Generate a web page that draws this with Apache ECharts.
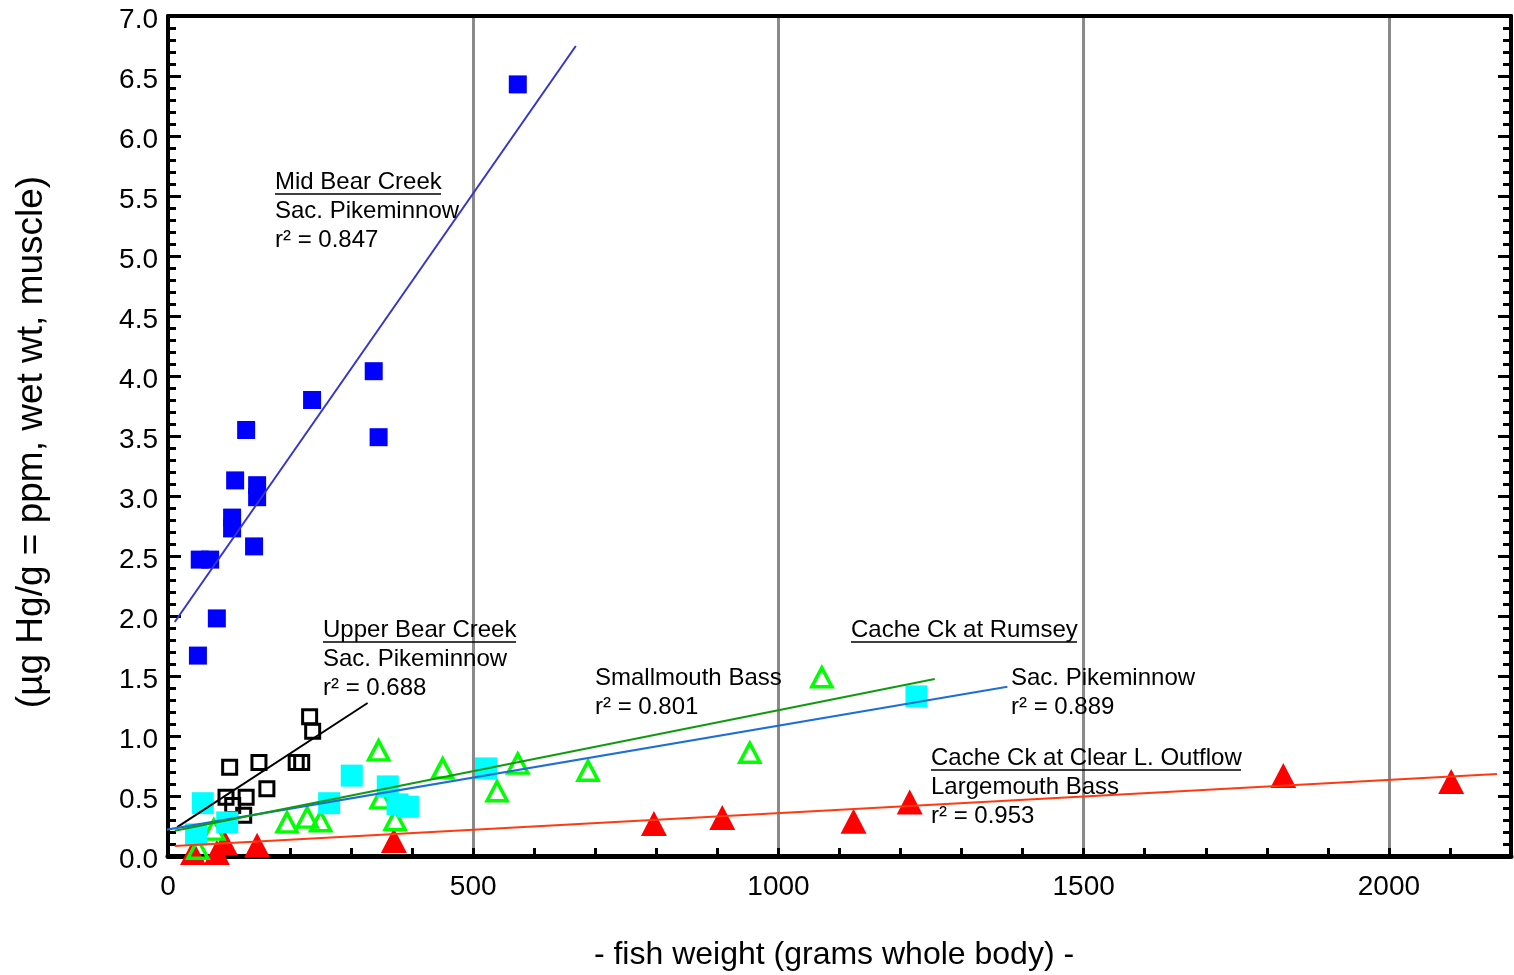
<!DOCTYPE html>
<html>
<head>
<meta charset="utf-8">
<script src="https://cdn.jsdelivr.net/npm/echarts@6/dist/echarts.min.js"></script>
<style>
html,body{margin:0;padding:0;background:#fff;}
#chart{width:1514px;height:975px;}
</style>
</head>
<body>
<div id="chart"></div>
<script>
// ---- data (grams whole body, ppm) ----
const midBearPikeminnow = [
  [573, 6.43], [337, 4.04], [345, 3.49], [236, 3.80], [128, 3.55],
  [110, 3.13], [146, 3.09], [146, 2.99], [105, 2.82], [105, 2.73],
  [141, 2.58], [52, 2.47], [69, 2.47], [80, 1.98], [49, 1.67]
];
const upperBearPikeminnow = [
  [232, 1.16], [237, 1.04], [101, 0.74], [149, 0.78], [210, 0.78],
  [219, 0.78], [162, 0.56], [95, 0.49], [128, 0.49], [106, 0.42], [124, 0.34]
];
const rumseyPikeminnow = [
  [46, 0.18], [57, 0.44], [97, 0.28], [264, 0.44], [301, 0.67],
  [360, 0.58], [376, 0.43], [393, 0.41], [521, 0.73], [1226, 1.33]
];
const rumseySmallmouth = [
  [1071, 1.49], [953, 0.86], [688, 0.71], [573, 0.77], [539, 0.54],
  [450, 0.73], [345, 0.88], [349, 0.48], [372, 0.30], [228, 0.32],
  [250, 0.29], [195, 0.28], [75, 0.22], [49, 0.06]
];
const clearLakeLargemouth = [
  [2102, 0.62], [1827, 0.67], [1215, 0.45], [1123, 0.29], [908, 0.32],
  [796, 0.27], [370, 0.13], [146, 0.09], [93, 0.11], [80, 0.03], [41, 0.03]
];
// regression lines (end points)
const midBearFit = [[11, 1.95], [668, 6.75]];
const upperBearFit = [[15, 0.24], [327, 1.275]];
const rumseyPikeFit = [[-13, 0.21], [1375, 1.41]];
const smallmouthFit = [[11, 0.21], [1256, 1.475]];
const largemouthFit = [[11, 0.083], [2177, 0.683]];
// axis ticks
const xLabels = [0, 500, 1000, 1500, 2000];
const yMin = 0, yMax = 7, yStep = 0.5;

const FONT = '"Liberation Sans", Arial, sans-serif';
const chart = echarts.init(document.getElementById('chart'), null, {renderer: 'canvas'});

function txt(x, y, s) {
  return {type: 'text', x: x, y: y, z: 100,
    style: {text: s, fill: '#000', font: '24px ' + FONT, textAlign: 'left', textVerticalAlign: 'middle'}};
}
function uline(x1, x2, y) {
  return {type: 'line', z: 100, shape: {x1: x1, y1: y, x2: x2, y2: y},
    style: {stroke: '#000', lineWidth: 1.5}};
}

const option = {
  animation: false,
  backgroundColor: '#fff',
  grid: {left: 168, right: 2, top: 16, bottom: 119, containLabel: false},
  xAxis: [
    {
      type: 'value', min: 0, max: 2200, interval: 100, position: 'bottom',
      axisLine: {show: true, onZero: false, lineStyle: {color: '#000', width: 5}},
      axisTick: {show: true, inside: true, length: 8, lineStyle: {color: '#000', width: 3}},
      axisLabel: {show: true, margin: 17, color: '#000', fontSize: 28, fontFamily: FONT,
        formatter: v => xLabels.indexOf(v) >= 0 ? String(v) : ''},
      splitLine: {show: false}
    },
    {
      type: 'value', min: 0, max: 2200, interval: 500, position: 'top',
      axisLine: {show: true, onZero: false, lineStyle: {color: '#000', width: 4}},
      axisTick: {show: false}, axisLabel: {show: false},
      splitLine: {show: true, lineStyle: {color: '#8a8a8a', width: 3}}
    }
  ],
  yAxis: [
    {
      type: 'value', min: yMin, max: yMax, interval: yStep, position: 'left',
      axisLine: {show: true, onZero: false, lineStyle: {color: '#000', width: 4}},
      axisTick: {show: true, inside: true, length: 13, lineStyle: {color: '#000', width: 3}},
      minorTick: {show: true, splitNumber: 5, length: 8, lineStyle: {color: '#000', width: 3}},
      axisLabel: {show: true, margin: 10, color: '#000', fontSize: 28, fontFamily: FONT,
        verticalAlign: 'top', lineHeight: 8, formatter: v => v.toFixed(1)},
      splitLine: {show: false}
    },
    {
      type: 'value', min: yMin, max: yMax, interval: yStep, position: 'right',
      axisLine: {show: true, onZero: false, lineStyle: {color: '#000', width: 4}},
      axisTick: {show: true, inside: true, length: 13, lineStyle: {color: '#000', width: 3}},
      minorTick: {show: true, splitNumber: 5, length: 8, lineStyle: {color: '#000', width: 3}},
      axisLabel: {show: false},
      splitLine: {show: false}
    }
  ],
  series: [
    {type: 'scatter', name: 'Cache Ck at Clear L. Outflow Largemouth Bass', data: clearLakeLargemouth,
      symbol: 'triangle', symbolSize: [26, 25], itemStyle: {color: '#ff0000', opacity: 1}, z: 2},
    {type: 'scatter', name: 'Cache Ck at Rumsey Smallmouth Bass', data: rumseySmallmouth,
      symbol: 'triangle', symbolSize: [20, 19],
      itemStyle: {color: 'rgba(0,0,0,0)', borderColor: '#00ff00', borderWidth: 3.5, opacity: 1}, z: 3},
    {type: 'scatter', name: 'Upper Bear Creek Sac. Pikeminnow', data: upperBearPikeminnow,
      symbol: 'rect', symbolSize: 14,
      itemStyle: {color: 'rgba(0,0,0,0)', borderColor: '#000', borderWidth: 3, opacity: 1}, z: 3},
    {type: 'scatter', name: 'Cache Ck at Rumsey Sac. Pikeminnow', data: rumseyPikeminnow,
      symbol: 'rect', symbolSize: 22, itemStyle: {color: '#00ffff', opacity: 1}, z: 4},
    {type: 'scatter', name: 'Mid Bear Creek Sac. Pikeminnow', data: midBearPikeminnow,
      symbol: 'rect', symbolSize: 18, itemStyle: {color: '#0000ff', opacity: 1}, z: 4},
    {type: 'line', data: midBearFit, symbol: 'none', lineStyle: {color: '#3535c8', width: 2}, z: 6, silent: true},
    {type: 'line', data: upperBearFit, symbol: 'none', lineStyle: {color: '#000', width: 2}, z: 6, silent: true},
    {type: 'line', data: rumseyPikeFit, symbol: 'none', clip: false, lineStyle: {color: '#1c6fd6', width: 2}, z: 6, silent: true},
    {type: 'line', data: smallmouthFit, symbol: 'none', lineStyle: {color: '#109a10', width: 2}, z: 6, silent: true},
    {type: 'line', data: largemouthFit, symbol: 'none', lineStyle: {color: '#ff3a10', width: 2}, z: 6, silent: true}
  ],
  graphic: [
    txt(275, 182, 'Mid Bear Creek'), uline(275, 441, 194),
    txt(275, 211, 'Sac. Pikeminnow'),
    txt(275, 240, 'r\u00B2 = 0.847'),
    txt(323, 630, 'Upper Bear Creek'), uline(323, 516, 642),
    txt(323, 659, 'Sac. Pikeminnow'),
    txt(323, 688, 'r\u00B2 = 0.688'),
    txt(595, 678, 'Smallmouth Bass'),
    txt(595, 707, 'r\u00B2 = 0.801'),
    txt(851, 630, 'Cache Ck at Rumsey'), uline(851, 1077, 642),
    txt(1011, 678, 'Sac. Pikeminnow'),
    txt(1011, 707, 'r\u00B2 = 0.889'),
    txt(931, 758, 'Cache Ck at Clear L. Outflow'), uline(931, 1241, 770),
    txt(931, 787, 'Largemouth Bass'),
    txt(931, 816, 'r\u00B2 = 0.953'),
    {type: 'text', x: 834, y: 955, z: 100,
      style: {text: '- fish weight (grams whole body) -', fill: '#000', font: '32px ' + FONT,
        textAlign: 'center', textVerticalAlign: 'middle'}},
    {type: 'text', x: 32, y: 442, rotation: Math.PI / 2, z: 100,
      style: {text: '(\u00B5g Hg/g = ppm, wet wt, muscle)', fill: '#000', font: '37px ' + FONT,
        textAlign: 'center', textVerticalAlign: 'middle'}}
  ]
};
chart.setOption(option);
</script>
</body>
</html>
